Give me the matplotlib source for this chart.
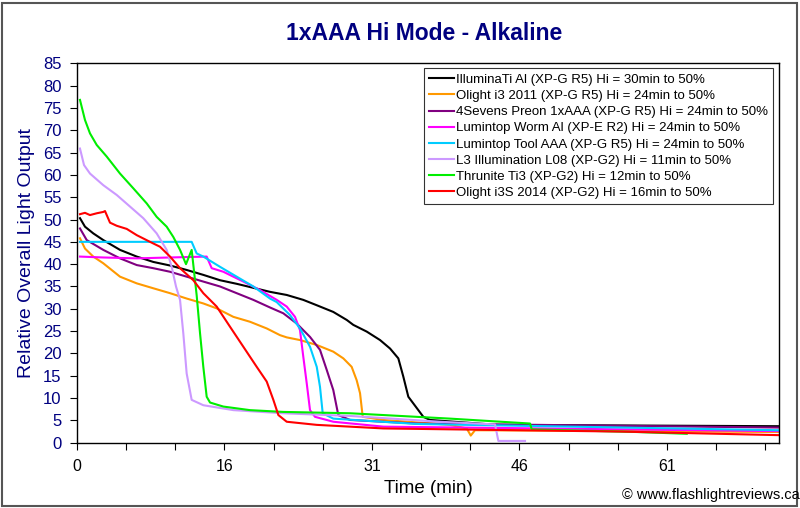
import matplotlib
matplotlib.use("Agg")
import matplotlib.pyplot as plt
from matplotlib.patches import Rectangle
from matplotlib.ticker import FixedLocator, MultipleLocator

plt.rcParams['font.family'] = ['Liberation Sans', 'DejaVu Sans']

# runtime curves: time (min) and relative output
illuminati_t = [0.31, 0.83, 1.69, 2.73, 4.47, 6.21, 7.93, 9.67, 11.40, 13.13, 14.87, 16.60, 18.33,
                20.06, 21.80, 23.52, 24.92, 26.64, 28.04, 28.72, 30.11, 31.50, 32.54, 33.40, 33.92,
                34.44, 34.96, 36.00, 36.69, 43.63, 72.87]
illuminati_v = [50.3, 48.4, 46.9, 45.4, 43.2, 41.7, 40.5, 39.7, 38.7, 37.6, 36.4, 35.6, 34.7,
                33.8, 33.1, 32.0, 30.8, 29.3, 27.5, 26.4, 24.9, 23.0, 21.1, 18.9, 14.8,
                10.3, 8.8, 5.8, 5.1, 4.0, 3.7]

olight_t = [0.31, 0.83, 1.69, 2.73, 4.47, 6.21, 7.93, 9.67, 11.40, 13.13, 14.52, 16.25, 17.98,
            19.72, 21.10, 21.80, 23.18, 24.92, 26.64, 27.68, 28.55, 29.07, 29.42, 29.70, 31.84,
            38.77, 40.51, 40.93, 41.37, 51.25, 72.87]
olight_v = [45.8, 43.5, 41.7, 40.2, 37.2, 35.7, 34.6, 33.5, 32.3, 31.2, 30.1, 28.2, 27.1,
            25.6, 24.1, 23.6, 23.0, 21.9, 20.4, 18.9, 17.0, 14.0, 11.1, 5.8, 5.1,
            4.0, 3.2, 1.6, 2.8, 2.7, 2.4]

preon_t = [0.31, 1.01, 2.73, 4.47, 6.21, 7.93, 9.67, 11.40, 13.13, 14.87, 16.60, 18.33, 20.06,
           21.44, 22.84, 24.22, 25.26, 25.96, 26.64, 27.16, 28.38, 35.31, 72.87]
preon_v = [48.0, 45.4, 43.2, 41.3, 39.8, 39.1, 38.3, 37.2, 36.1, 35.0, 33.5, 32.0, 30.3,
           29.0, 26.7, 23.7, 20.8, 16.3, 11.8, 6.2, 5.1, 4.3, 3.4]

worm_t = [0.31, 2.73, 6.21, 9.67, 13.48, 14.00, 15.21, 17.29, 19.02, 20.76, 21.80, 22.66, 23.18,
          23.52, 23.88, 24.22, 24.74, 26.64, 31.84, 72.87]
worm_v = [41.7, 41.5, 41.3, 41.5, 41.7, 39.1, 38.3, 36.1, 34.2, 32.0, 30.5, 28.2, 25.2,
          19.3, 13.3, 7.3, 5.8, 4.7, 3.6, 2.6]

tool_t = [0.31, 11.92, 12.44, 13.13, 14.87, 16.60, 18.33, 20.06, 20.76, 22.14, 23.18, 24.22,
          24.92, 25.26, 25.54, 26.64, 35.31, 72.87]
tool_v = [45.0, 45.0, 42.4, 41.7, 39.4, 37.2, 35.0, 32.3, 31.5, 28.6, 25.6, 21.5,
          17.0, 12.5, 6.6, 5.4, 4.2, 2.8]

l3_t = [0.31, 0.73, 1.35, 2.73, 4.13, 5.51, 6.89, 8.28, 9.32, 9.84, 10.29, 10.71, 11.05, 11.40,
        11.92, 13.13, 16.25, 21.44, 28.38, 37.73, 43.45, 43.80, 46.57]
l3_v = [65.9, 62.2, 60.3, 57.7, 55.5, 52.9, 50.3, 46.9, 43.2, 39.4, 35.0, 32.0, 24.5, 15.5,
        9.6, 8.4, 7.3, 6.6, 6.0, 4.7, 4.1, 0.4, 0.4]

thrunite_t = [0.31, 0.83, 1.35, 2.05, 3.09, 4.47, 5.85, 7.25, 8.28, 9.32, 10.01, 10.71, 11.33,
              11.92, 12.44, 12.79, 13.13, 13.48, 13.83, 15.21, 17.98, 21.44, 28.38, 38.77,
              47.09, 47.27, 58.18, 63.38]
thrunite_v = [76.8, 72.3, 69.3, 66.7, 64.1, 60.3, 57.0, 53.6, 50.6, 48.4, 46.1, 43.2, 40.0,
              43.2, 33.0, 24.5, 17.0, 10.3, 9.0, 8.1, 7.3, 6.9, 6.6, 5.4,
              4.3, 3.0, 2.4, 2.0]

i3s_t = [0.31, 0.83, 1.35, 2.05, 2.73, 2.91, 3.43, 4.13, 5.17, 6.21, 7.59, 8.63, 9.67, 10.71,
         12.09, 13.13, 14.52, 15.90, 17.29, 18.68, 19.72, 20.41, 20.93, 21.80, 24.92, 31.84,
         42.23, 56.44, 72.87]
i3s_v = [51.2, 51.5, 51.0, 51.4, 51.7, 51.9, 49.3, 48.6, 47.9, 46.5, 45.0, 43.9, 41.7, 39.1,
         36.4, 33.5, 30.5, 26.0, 21.5, 17.0, 13.7, 9.6, 6.2, 4.7, 4.0, 3.2,
         2.9, 2.5, 1.7]

labels = ["IlluminaTi Al (XP-G R5) Hi = 30min to 50%",
          "Olight i3 2011 (XP-G R5) Hi = 24min to 50%",
          "4Sevens Preon 1xAAA (XP-G R5) Hi = 24min to 50%",
          "Lumintop Worm Al (XP-E R2) Hi = 24min to 50%",
          "Lumintop Tool AAA (XP-G R5) Hi = 24min to 50%",
          "L3 Illumination L08 (XP-G2) Hi = 11min to 50%",
          "Thrunite Ti3 (XP-G2) Hi = 12min to 50%",
          "Olight i3S 2014 (XP-G2) Hi = 16min to 50%"]
colors = ['#000000', '#FF9900', '#800080', '#FF00FF', '#00CCFF', '#CC99FF', '#00EE00', '#FF0000']
series = [(illuminati_t, illuminati_v), (olight_t, olight_v), (preon_t, preon_v),
          (worm_t, worm_v), (tool_t, tool_v), (l3_t, l3_v), (thrunite_t, thrunite_v),
          (i3s_t, i3s_v)]

tick_step = 15.33 / 3
xtick_labels = ['0', '16', '31', '46', '61']

fig = plt.figure(figsize=(8, 5.08), dpi=100)
ax = fig.add_axes([0.09625, 0.1285, 0.8775, 0.7469])

for (t, v), c, lab in zip(series, colors, labels):
    ax.plot(t, v, color=c, lw=1.5, label=lab)

ax.set_xlim(0, 72.97)
ax.set_ylim(0, 85)
ax.yaxis.set_major_locator(MultipleLocator(5))
ax.xaxis.set_major_locator(FixedLocator([i * tick_step for i in range(15)]))
ax.set_xticklabels([xtick_labels[i // 3] if i % 3 == 0 else '' for i in range(15)])
ax.tick_params(axis='x', direction='out', length=5, width=0.8, labelsize=11.5, colors='black', pad=7)
ax.tick_params(axis='y', direction='out', length=5, width=0.8, labelsize=12, labelcolor='#000080', pad=6)
for s in ax.spines.values():
    s.set_linewidth(1.0)
    s.set_color('black')

ax.set_xlabel("Time (min)", fontsize=13.5, labelpad=4)
ax.set_ylabel("Relative Overall Light Output", fontsize=14, color='#000080', labelpad=6)
fig.text(0.53, 0.935, "1xAAA Hi Mode - Alkaline", ha='center', va='center',
         fontsize=16.5, fontweight='bold', color='#000080')
fig.text(0.778, 0.025, "\u00a9 www.flashlightreviews.ca", ha='left', va='center', fontsize=10.5)

leg = ax.legend(loc='upper right', bbox_to_anchor=(0.9915, 0.987), fontsize=9.5, frameon=True,
                fancybox=False, edgecolor='black', handlelength=1.9, handletextpad=0.1,
                labelspacing=0.3, borderpad=0.4, borderaxespad=0)
leg.get_frame().set_linewidth(0.8)

fig.patches.append(Rectangle((0.003, 0.004), 0.993, 0.99, transform=fig.transFigure,
                             fill=False, edgecolor='#555555', linewidth=1.5))

fig.savefig("out.png", dpi=100)
